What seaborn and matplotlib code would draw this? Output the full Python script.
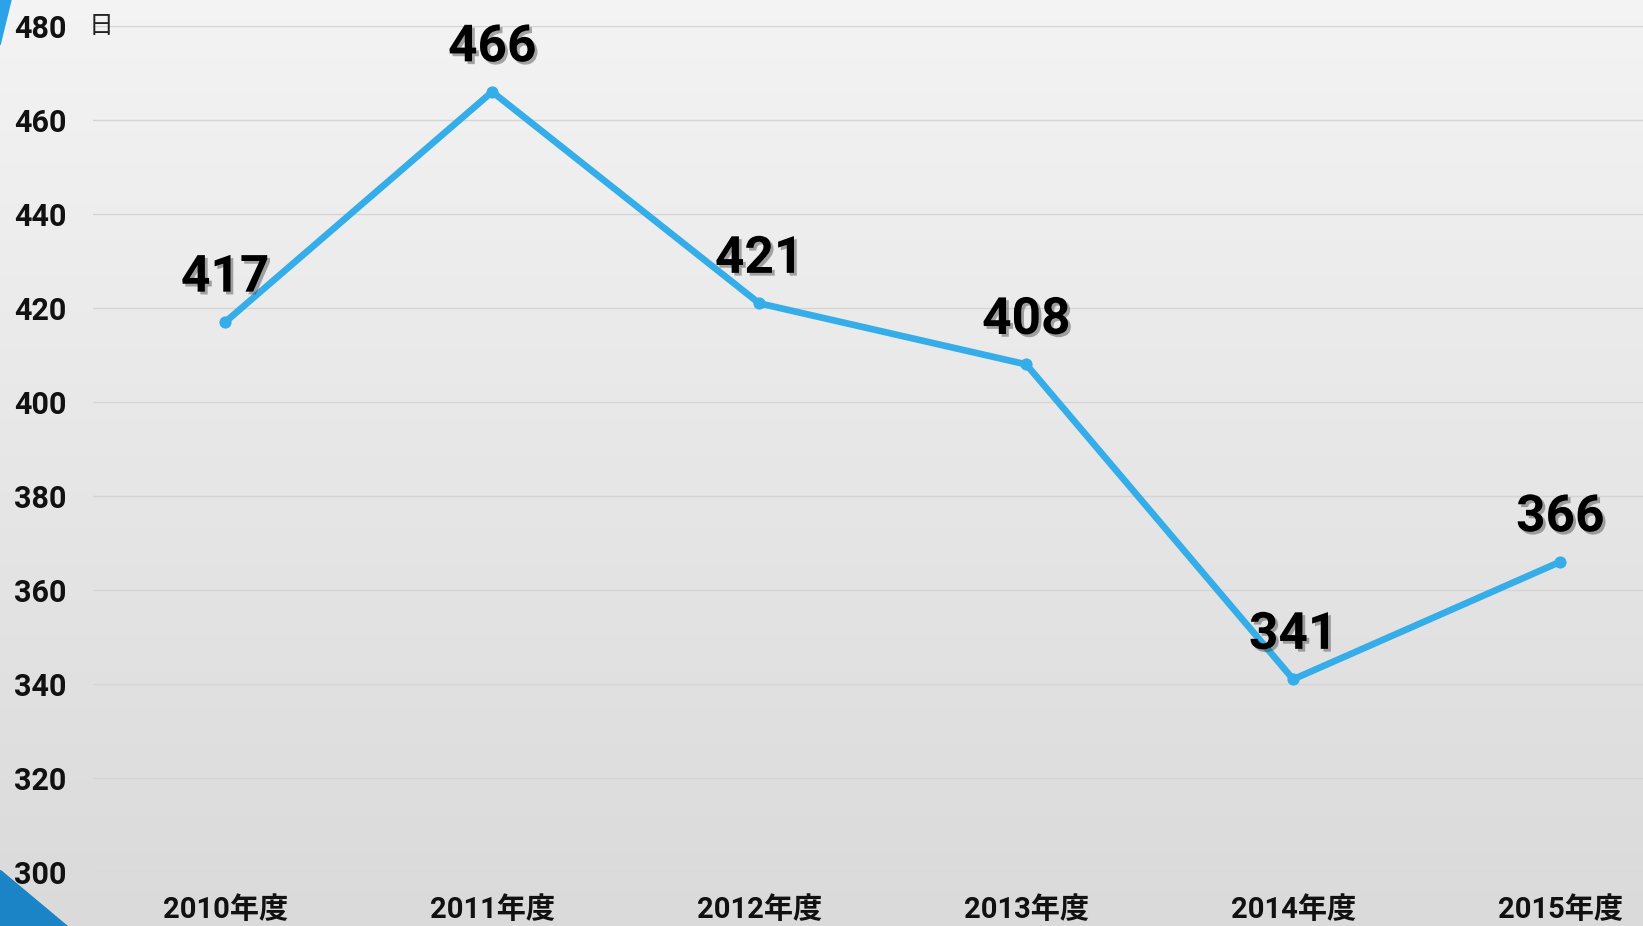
import numpy as np
import pandas as pd
import matplotlib
matplotlib.use("Agg")
import matplotlib.pyplot as plt
import matplotlib.patheffects as pe
from matplotlib.patches import Polygon
import seaborn as sns

# ===========================
# DATA
# ===========================
years = ["2010年度", "2011年度", "2012年度", "2013年度", "2014年度", "2015年度"]
days = [417, 466, 421, 408, 341, 366]
y_ticks = [300, 320, 340, 360, 380, 400, 420, 440, 460, 480]
unit_label = "日"

df = pd.DataFrame({"year": years, "days": days})

sns.set_theme(style="white")
plt.rcParams["font.family"] = ["Roboto", "Noto Sans CJK JP", "DejaVu Sans"]

W, H, DPI = 1643, 926, 100
fig = plt.figure(figsize=(W / DPI, H / DPI), dpi=DPI)

# ---- background: grey gradient + blue corner triangles ----
bg = fig.add_axes([0, 0, 1, 1], zorder=0)
grad = np.linspace(0, 1, 256).reshape(-1, 1)
top = np.array([0.955, 0.955, 0.955])
bot = np.array([0.855, 0.855, 0.855])
img = top + (bot - top) * grad[:, :, None]
bg.imshow(img, aspect="auto", extent=[0, 1, 0, 1], origin="upper")
bg.add_patch(Polygon([[0, 1 - 870 / H], [0, 0], [67 / W, 0]],
                     closed=True, color="#1a84c6", transform=bg.transAxes))
bg.add_patch(Polygon([[0, 1], [11 / W, 1], [0, 1 - 45 / H]],
                     closed=True, color="#2aa3e8", transform=bg.transAxes))
bg.set_xlim(0, 1)
bg.set_ylim(0, 1)
bg.axis("off")

# ---- main chart ----
ax = fig.add_axes([93 / W, 1 - 872 / H, 1 - 93 / W, (872 - 26) / H], zorder=1)
ax.patch.set_alpha(0)

sns.lineplot(data=df, x="year", y="days", ax=ax, color="#35ade8",
             linewidth=4.8, marker="o", markersize=8,
             markeredgecolor="#35ade8", sort=False)

ax.set_ylim(300, 480)
ax.set_xlim(-0.495, 5.31)
ax.set_yticks(y_ticks)
ax.grid(axis="y", color="#d4d4d4", linewidth=1.0)
ax.grid(axis="x", visible=False)
for s in ax.spines.values():
    s.set_visible(False)
ax.set_xlabel("")
ax.set_ylabel("")
ax.tick_params(axis="y", length=0, pad=19, labelsize=22)
ax.tick_params(axis="x", length=0, pad=17, labelsize=21)
for lbl in ax.get_yticklabels() + ax.get_xticklabels():
    lbl.set_fontweight("bold")
    lbl.set_color("#111111")

# unit label next to top tick
ax.text(-0.003, 480, unit_label, transform=ax.get_yaxis_transform(),
        ha="left", va="center", fontsize=18, color="#222222",
        family=["Noto Sans CJK JP", "DejaVu Sans"])

# data labels with shadow
for i, v in enumerate(days):
    t = ax.annotate(str(v), (i, v), xytext=(0, 32), textcoords="offset points",
                    ha="center", va="center", fontsize=37, fontweight="bold",
                    color="black", zorder=5)
    t.set_path_effects([pe.SimplePatchShadow(offset=(2, -2), shadow_rgbFace="#444444", alpha=0.45),
                        pe.Normal()])

fig.savefig("out.png", dpi=DPI)
